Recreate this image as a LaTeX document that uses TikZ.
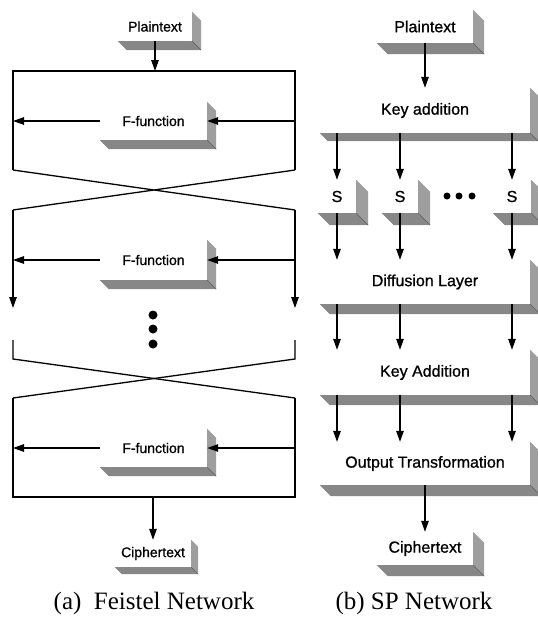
\documentclass[tikz,border=0pt]{standalone}
\usepackage{fontspec}
\setmainfont{Liberation Serif}
\setsansfont{Liberation Sans}
\newfontfamily\lblfont[FakeBold=0.9]{Liberation Sans}
\usetikzlibrary{arrows.meta}
\tikzset{
  fline/.style={line width=1.3pt},
  arr/.style={line width=1.3pt,-{Triangle[length=11pt,width=7.5pt]}},
  ftext/.style={font=\lblfont\fontsize{14}{16}\selectfont,inner sep=0pt},
  stext/.style={font=\lblfont\fontsize{16}{18}\selectfont,inner sep=0pt},
  shadowb/.style={fill=black!47},
  shadowr/.style={fill=black!38},
  dot/.style={circle,fill=black,inner sep=0pt,minimum size=#1},
  caption/.style={font=\fontsize{25}{28}\selectfont,inner sep=0pt}
}
\begin{document}
\begin{tikzpicture}[x=1pt,y=-1pt]
\useasboundingbox (0,0) rectangle (538,621);
\clip (0,0) rectangle (538,621);
% (a) Feistel network
\node[ftext,minimum width=74,minimum height=29] (pa) at (155,26.5) {Plaintext};
\node[ftext,minimum width=107,minimum height=38] (f1) at (153.5,121) {F-function};
\node[ftext,minimum width=107,minimum height=40] (f2) at (153.5,260) {F-function};
\node[ftext,minimum width=107,minimum height=38] (f3) at (153.5,448) {F-function};
\node[ftext,minimum width=76,minimum height=27] (ca) at (153,553.5) {Ciphertext};
\coordinate (tl) at (13,71);   \coordinate (tr) at (295,71);
\coordinate (a1l) at (13,170); \coordinate (a1r) at (295,170);
\coordinate (b1l) at (13,210); \coordinate (b1r) at (295,210);
\coordinate (e1l) at (13,308); \coordinate (e1r) at (295,308);
\coordinate (c1l) at (13,340); \coordinate (c1r) at (295,340);
\coordinate (a2l) at (13,359); \coordinate (a2r) at (295,359);
\coordinate (b2l) at (13,398); \coordinate (b2r) at (295,398);
\coordinate (bl) at (13,497);  \coordinate (br) at (295,497);
\foreach \y/\i in {315/1,329/2,344/3}
  \node[dot=9pt] (fd\i) at (153,\y) {};
% (b) SP network
\node[stext,minimum width=96,minimum height=33] (pb) at (425,26.5) {Plaintext};
\node[stext,minimum width=210,minimum height=45] (ka) at (425,110.5) {Key addition};
\node[stext,minimum width=38,minimum height=33] (s1) at (337,196.5) {S};
\node[stext,minimum width=36,minimum height=33] (s2) at (400,196.5) {S};
\node[stext,minimum width=38,minimum height=33] (s3) at (512,196.5) {S};
\node[stext,minimum width=210,minimum height=44] (dl) at (425,282) {Diffusion Layer};
\node[stext,minimum width=210,minimum height=45] (kA) at (425,372.5) {Key Addition};
\node[stext,minimum width=210,minimum height=43] (ot) at (425,463.5) {Output Transformation};
\node[stext,minimum width=96,minimum height=33] (cb) at (425,548.5) {Ciphertext};
\foreach \x/\i in {447/1,459/2,472/3}
  \node[dot=7pt] (sd\i) at (\x,196) {};
% shadows
\foreach \n/\t in {pa/9,f1/9,f2/9,f3/9,ca/7,pb/11,ka/8,s1/12,s2/12,s3/12,dl/10,kA/10,ot/11,cb/11} {
  \fill[shadowb] (\n.south west) -- (\n.south east) -- ++(\t,\t) -- ([shift={(\t,\t)}]\n.south west) -- cycle;
  \fill[shadowr] (\n.north east) -- ++(\t,\t) -- ([shift={(\t,\t)}]\n.south east) -- (\n.south east) -- cycle;
  \draw[black!65,line width=0.6pt] (\n.south east) -- ++(\t,\t);
}
% Feistel lines
\draw[fline] (a1l) |- (tr) -- (a1r);
\draw[fline] (a1l) -- (b1r) (a1r) -- (b1l);
\draw[arr] (b1l) -- (e1l);
\draw[arr] (b1r) -- (e1r);
\draw[fline] (c1l) -- (a2l) -- (b2r);
\draw[fline] (c1r) -- (a2r) -- (b2l);
\draw[fline] (b2l) |- (br) -- (b2r);
\foreach \f in {f1,f2,f3} {
  \draw[arr] (\f.east -| tr) -- (\f.east);
  \draw[arr] (\f.west) -- (\f.west -| tl);
}
\draw[arr] (pa.south) -- (pa.south |- tl);
\draw[arr] (ca.north |- bl) -- (ca.north);
% SP arrows
\draw[arr] (pb.south) -- (ka.north -| pb.south);
\foreach \s in {s1,s2,s3} {
  \draw[arr] (ka.south -| \s.north) -- (\s.north);
  \draw[arr] (\s.south) -- (dl.north -| \s.south);
  \draw[arr] (dl.south -| \s.south) -- (kA.north -| \s.south);
  \draw[arr] (kA.south -| \s.south) -- (ot.north -| \s.south);
}
\draw[arr] (ot.south -| cb.north) -- (cb.north);
% captions
\node[caption] (capa) at (154,603) {(a)~ Feistel Network};
\node[caption] (capb) at (414,603) {(b) SP Network};
\end{tikzpicture}
\end{document}
